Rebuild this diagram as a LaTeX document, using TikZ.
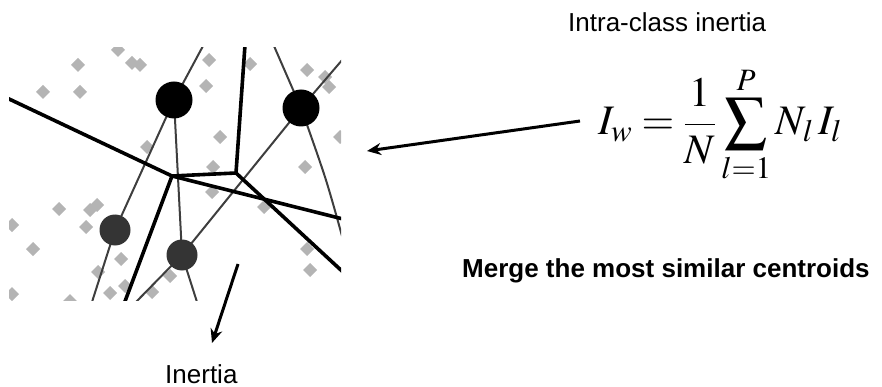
\documentclass[tikz,border=0pt]{standalone}
\usepackage{mathptmx}
\usepackage[no-math]{fontspec}
\setmainfont{Liberation Sans}
\usetikzlibrary{arrows.meta}
\definecolor{diagray}{RGB}{180,180,180}
\definecolor{linkgray}{RGB}{62,62,62}
\definecolor{cdark}{RGB}{52,52,52}
\tikzset{
  vor/.style={line width=3.6pt, black},
  link/.style={line width=2pt, linkgray},
  bigc/.style={circle, fill=black, minimum size=37pt, inner sep=0pt},
  smallc/.style={circle, fill=cdark, minimum size=31pt, inner sep=0pt},
  lab/.style={font=\fontsize{26}{30}\selectfont, inner sep=0pt},
  bigarrow/.style={line width=3pt, -{Stealth[length=14pt,width=12pt]}},
}
\begin{document}
\begin{tikzpicture}[x=1pt,y=-1pt]
\useasboundingbox (0,0) rectangle (882,387);
% centroid positions
\coordinate (c1) at (174,100);
\coordinate (c2) at (301,108);
\coordinate (c3) at (115,230);
\coordinate (c4) at (182,255);
\coordinate (A) at (172,176);
\coordinate (B) at (236,173);
\begin{scope}
  \clip (9,48) rectangle (341,300);
  % data points
  \foreach \x/\y in {118/50, 78/65, 132/63, 140/65, 43/92, 80/92, 147/147,
      209/60, 250/64, 206/86, 307/70, 325/77, 329/87, 220/137, 340/137,
      213/167, 305/167, 212/192, 264/207, 307/249, 310/270, 170/276,
      59/209, 90/210, 97/205, 86/227, 12/225, 33/249, 121/259, 98/272,
      12/294, 110/293, 125/286, 70/301, 152/292}
    \fill[diagray] (\x-7,\y) -- (\x,\y-7) -- (\x+7,\y) -- (\x,\y+7) -- cycle;
  % links
  \coordinate (t1) at (203,46);
  \coordinate (b3) at (92,302);
  \coordinate (b4a) at (136,302);
  \coordinate (b4b) at (197,302);
  \coordinate (t2a) at (274,46);
  \coordinate (t2b) at (343,59);
  \coordinate (m2) at (325,177);
  \coordinate (e2) at (342,236);
  \draw[link] (t1) -- (c1) -- (c3) -- (b3);
  \draw[link] (c1) -- (c4);
  \draw[link] (c2) -- (c4);
  \draw[link] (c4) -- (b4a);
  \draw[link] (c4) -- (b4b);
  \draw[link] (t2a) -- (c2) -- (t2b);
  \draw[link] plot[smooth, tension=0.6] coordinates {(c2) (m2) (e2)};
  % centroids
  \node[bigc] (n1) at (c1) {};
  \node[bigc] (n2) at (c2) {};
  \node[smallc] (n3) at (c3) {};
  \node[smallc] (n4) at (c4) {};
  % partition boundaries
  \coordinate (v1) at (7,98);
  \coordinate (v2) at (245,45);
  \coordinate (v3) at (343,219);
  \coordinate (v4) at (343,272);
  \coordinate (v5) at (124,304);
  \draw[vor] (v1) -- (A) -- (B) -- (v2);
  \draw[vor] (A) -- (v3);
  \draw[vor] (B) -- (v4);
  \draw[vor] (A) -- (v5);
\end{scope}
% texts
\node[lab, anchor=base west] (intra) at (568,32) {Intra-class inertia};
\node[inner sep=0pt, anchor=base west, font=\fontsize{42}{50}\selectfont] (formula) at (598,135)
  {$\displaystyle I_{w}=\frac{1}{N}\sum_{l=1}^{P} N_{l}\,I_{l}$};
\node[lab, anchor=base west, font=\fontsize{26}{30}\selectfont\bfseries] (merge) at (462,277) {Merge the most similar centroids};
\node[lab, anchor=base west] (inertia) at (165,383) {Inertia};
% arrows
\coordinate (a1s) at (580,121);
\coordinate (a1e) at (367,151);
\coordinate (a2s) at (238,264);
\coordinate (a2e) at (212,343);
\draw[bigarrow] (a1s) -- (a1e);
\draw[bigarrow] (a2s) -- (a2e);
\end{tikzpicture}
\end{document}
